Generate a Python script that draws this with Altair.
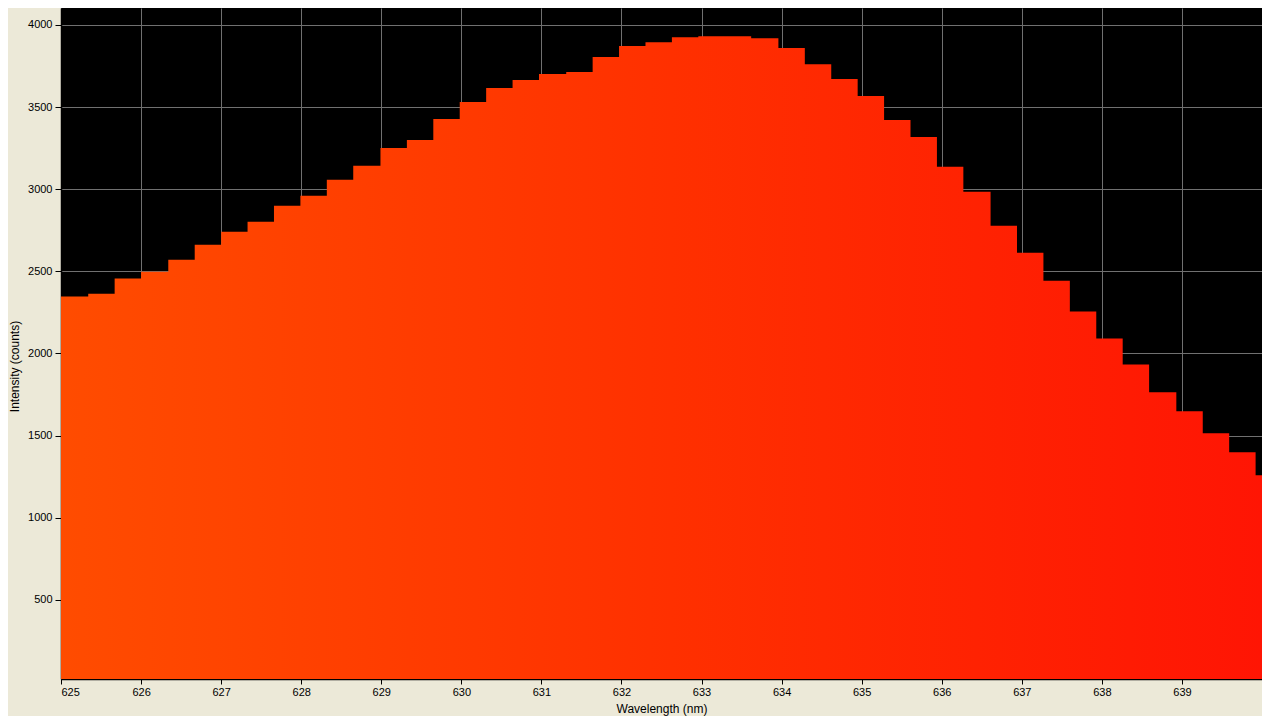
import altair as alt
import pandas as pd

# Left edge of each spectrometer bin (nm) and its intensity (counts)
wavelength_nm = [
    625.00, 625.34, 625.67, 626.00, 626.34, 626.67, 627.00, 627.33, 627.66, 627.99,
    628.32, 628.65, 628.99, 629.32, 629.65, 629.98, 630.31, 630.64, 630.97, 631.31,
    631.64, 631.97, 632.30, 632.63, 632.96, 633.29, 633.62, 633.96, 634.29, 634.62,
    634.95, 635.28, 635.61, 635.94, 636.27, 636.61, 636.94, 637.27, 637.60, 637.93,
    638.26, 638.59, 638.93, 639.26, 639.59, 639.92, 640.25,
]
intensity_counts = [
    2346, 2364, 2456, 2498, 2571, 2662, 2741, 2802, 2899, 2960,
    3057, 3142, 3251, 3300, 3427, 3531, 3616, 3664, 3701, 3713,
    3804, 3871, 3895, 3925, 3931, 3931, 3919, 3859, 3761, 3670,
    3567, 3421, 3318, 3136, 2984, 2777, 2613, 2443, 2255, 2091,
    1933, 1763, 1648, 1514, 1399, 1259, 1130,
]

x_ticks = list(range(625, 640))
y_ticks = list(range(500, 4001, 500))

df = pd.DataFrame({"wavelength": wavelength_nm, "intensity": intensity_counts})

FONT = "Liberation Sans"
BEIGE = "#ECE9D8"

gradient = alt.Gradient(
    gradient="linear",
    stops=[
        alt.GradientStop(color="#FF4C00", offset=0),
        alt.GradientStop(color="#FF3000", offset=0.5),
        alt.GradientStop(color="#FF1404", offset=1),
    ],
    x1=0, x2=1, y1=0, y2=0,
)

chart = (
    alt.Chart(df)
    .mark_area(interpolate="step-after", fill=gradient, clip=True, strokeWidth=0)
    .encode(
        x=alt.X(
            "wavelength:Q",
            scale=alt.Scale(domain=[625, 640], nice=False, zero=False),
            axis=alt.Axis(
                title="Wavelength (nm)",
                values=x_ticks,
                format="d",
                grid=True,
                gridColor="#707070",
                gridWidth=1,
                domainColor="#000000",
                domainWidth=1.5,
                tickColor="#000000",
                tickSize=5,
                labelPadding=2,
                labelFlush=True,
                labelOverlap=False,
                labelFont=FONT,
                labelFontSize=11,
                labelColor="#000000",
                titleFont=FONT,
                titleFontSize=12,
                titleFontWeight="normal",
                titleColor="#000000",
                titlePadding=6,
            ),
        ),
        y=alt.Y(
            "intensity:Q",
            scale=alt.Scale(domain=[18, 4103], nice=False, zero=False),
            axis=alt.Axis(
                title="Intensity (counts)",
                values=y_ticks,
                format="d",
                grid=True,
                gridColor="#707070",
                gridWidth=1,
                domainColor="#000000",
                domainWidth=1.5,
                tickColor="#000000",
                tickSize=6,
                labelPadding=3,
                labelOverlap=False,
                labelFont=FONT,
                labelFontSize=11,
                labelColor="#000000",
                titleFont=FONT,
                titleFontSize=12,
                titleFontWeight="normal",
                titleColor="#000000",
                titleX=-47,
                titleY=358,
                titleBaseline="middle",
                titleAlign="center",
            ),
        ),
    )
    .properties(
        width=1201,
        height=671,
        autosize="none",
        padding={"left": 53, "top": 0, "right": 0, "bottom": 37},
        background=BEIGE,
    )
    .configure_view(fill="#000000", stroke=None)
)

chart.save("out.html", embed_options={"renderer": "svg", "actions": False})
